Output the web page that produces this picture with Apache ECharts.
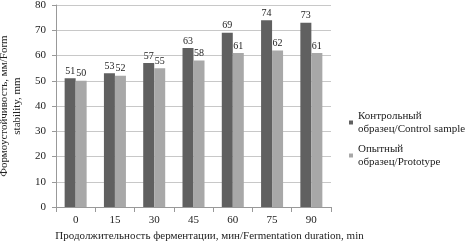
<!DOCTYPE html>
<html><head><meta charset="utf-8">
<script src="https://cdn.jsdelivr.net/npm/echarts@6/dist/echarts.min.js"></script>
<style>html,body{margin:0;padding:0;background:#fff}#c{width:465px;height:241px}</style>
</head><body><div id="c"></div>
<script>
const categories = ['0','15','30','45','60','75','90'];
const controlValues = [51,53,57,63,69,74,73];
const prototypeValues = [50,52,55,58,61,62,61];
const seriesNames = ['Контрольный\nобразец/Control sample','Опытный\nобразец/Prototype'];
const yTicks = {min:0,max:80,interval:10};
const font = 'Liberation Serif';
const chart = echarts.init(document.getElementById('c'));
const lbl = {show:true,position:'top',distance:2,color:'#222',fontFamily:font,fontSize:10};
chart.setOption({
  animation:false,
  textStyle:{fontFamily:font},
  grid:{left:56,right:134,top:5,bottom:34,outerBoundsMode:'none',containLabel:false},
  legend:{
    orient:'vertical',left:344,top:104,itemWidth:4,itemHeight:4,itemGap:6,
    icon:'rect',
    textStyle:{fontFamily:font,fontSize:11,color:'#222',lineHeight:13.5},
    data:seriesNames
  },
  xAxis:{
    type:'category',data:categories,
    name:'Продолжительность ферментации, мин/Fermentation duration, min',
    nameLocation:'middle',nameGap:12,
    nameTextStyle:{fontFamily:font,fontSize:11,color:'#222',padding:[0,0,0,32]},
    axisLine:{lineStyle:{color:'#999'}},
    axisTick:{show:true,length:5,lineStyle:{color:'#999'}},
    axisLabel:{fontFamily:font,fontSize:11,color:'#222',margin:8}
  },
  yAxis:{
    type:'value',min:yTicks.min,max:yTicks.max,interval:yTicks.interval,
    name:'Формоустойчивость, мм/Form\nstability, mm',
    nameLocation:'middle',nameGap:19,
    nameTextStyle:{fontFamily:font,fontSize:11,color:'#222',lineHeight:13},
    axisLine:{show:true,lineStyle:{color:'#999'}},
    axisTick:{show:true,length:4,lineStyle:{color:'#999'}},
    splitLine:{lineStyle:{color:'#c8c8c8'}},
    axisLabel:{fontFamily:font,fontSize:11,color:'#222',margin:10}
  },
  series:[
    {name:seriesNames[0],type:'bar',data:controlValues,barWidth:11,barGap:'0%',itemStyle:{color:'#606060'},label:lbl},
    {name:seriesNames[1],type:'bar',data:prototypeValues,barWidth:11,itemStyle:{color:'#a8a8a8'},label:lbl}
  ]
});
</script></body></html>
